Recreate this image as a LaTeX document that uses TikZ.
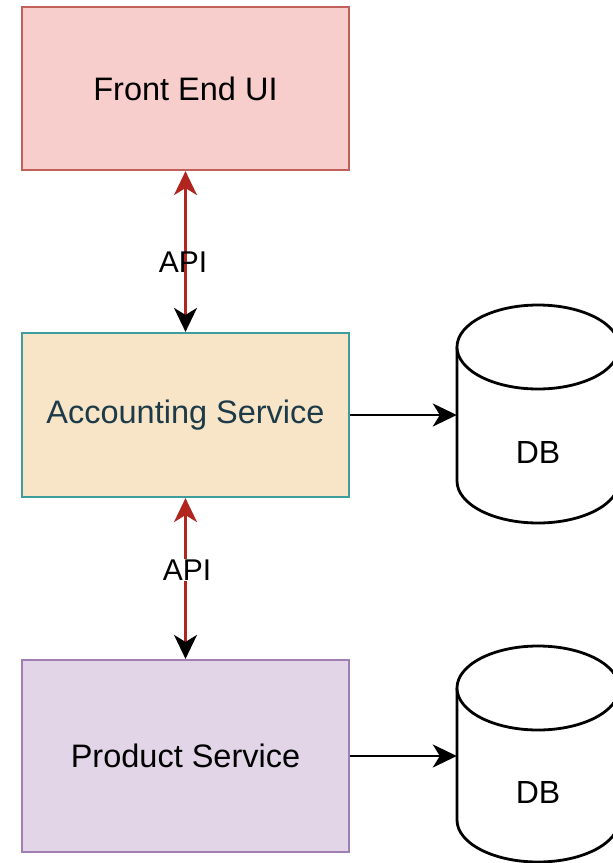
\documentclass[tikz,border=0pt]{standalone}
\usepackage{fontspec}
\setmainfont{Liberation Sans}
\usetikzlibrary{arrows.meta}
\definecolor{feFill}{HTML}{F7CECC}
\definecolor{feDraw}{HTML}{C0605A}
\definecolor{acFill}{HTML}{F8E5C8}
\definecolor{acDraw}{HTML}{3E9E9C}
\definecolor{acText}{HTML}{1C3A48}
\definecolor{prFill}{HTML}{E1D5E7}
\definecolor{prDraw}{HTML}{A07FB2}
\definecolor{apiRed}{HTML}{B0261F}
\tikzset{
  svc/.style={draw, line width=2.2pt, minimum width=327pt, inner sep=0pt,
    font=\fontsize{32.5}{38}\selectfont},
  dbnode/.style={minimum width=162pt, inner sep=0pt, font=\fontsize{32}{38}\selectfont},
  cyl/.style={line width=2.8pt, fill=white},
  apiarrow/.style={draw=apiRed, line width=2.4pt,
    {Stealth[length=24pt,width=23pt,inset=7pt,color=apiRed]}-{Stealth[length=24pt,width=23pt,inset=7pt,color=black]}},
  dbarrow/.style={draw=black, line width=2.4pt, -{Stealth[length=24pt,width=23pt,inset=7pt]}},
  apilabel/.style={font=\fontsize{30}{36}\selectfont, inner sep=1pt}
}
\begin{document}
\begin{tikzpicture}[x=1pt,y=-1pt]
\useasboundingbox (0,0) rectangle (613,863);
\clip (0,0) rectangle (613,863);
% service boxes
\node[svc, fill=feFill, draw=feDraw, minimum height=163pt] (fe) at (185.5,88.5) {Front End UI};
\node[svc, fill=acFill, draw=acDraw, text=acText, minimum height=164pt] (ac) at (185.5,415) {Accounting Service};
\node[svc, fill=prFill, draw=prDraw, minimum height=192pt] (pr) at (185.5,756) {Product Service};
% databases
\node[dbnode, minimum height=218pt] (db1) at (538,415) {};
\node[dbnode, minimum height=216pt] (db2) at (538,756) {};
% cylinder 1
\draw[cyl] (457,347) -- (457,481) arc[start angle=180, end angle=0, x radius=81, y radius=42] -- (619,347);
\draw[cyl] (538,347) ellipse[x radius=81, y radius=42];
\node[font=\fontsize{32}{38}\selectfont] (db1t) at (538,452) {DB};
% cylinder 2
\draw[cyl] (457,688) -- (457,820) arc[start angle=180, end angle=0, x radius=81, y radius=42] -- (619,688);
\draw[cyl] (538,688) ellipse[x radius=81, y radius=42];
\node[font=\fontsize{32}{38}\selectfont] (db2t) at (538,792) {DB};
% connectors
\draw[apiarrow] (fe.south) -- (ac.north);
\node[apilabel] (api1) at (183,262) {API};
\draw[apiarrow] (ac.south) -- (pr.north);
\node[apilabel, fill=white] (api2) at (187,570) {API};
\draw[dbarrow] (ac.east) -- (db1.west);
\draw[dbarrow] (pr.east) -- (db2.west);
\end{tikzpicture}
\end{document}
